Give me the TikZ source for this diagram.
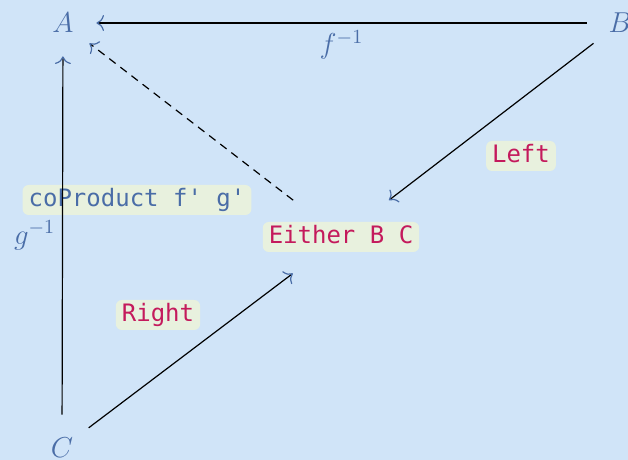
\documentclass[tikz,border=0pt]{standalone}
\usepackage{fontspec}
\newfontfamily\codefont{DejaVu Sans Mono}
\usetikzlibrary{arrows.meta}
\definecolor{bgblue}{RGB}{208,228,248}
\definecolor{objblue}{RGB}{74,109,167}
\definecolor{codebg}{RGB}{232,241,222}
\definecolor{codered}{RGB}{196,26,92}
\begin{document}
\begin{tikzpicture}
        [x=0.5pt, y=-0.5pt,
        obj/.style={circle, minimum size=33pt, inner sep=0pt, text=objblue, font=\Large},
        hub/.style={circle, minimum size=60pt, inner sep=0pt},
        code/.style={fill=codebg, rounded corners=3pt, inner xsep=3pt, inner ysep=1.9pt,
          text height=8.8pt, text depth=2.4pt, text=codered,
          font=\codefont\fontsize{12}{14}\selectfont},
        arr/.style={black, line width=0.6pt, -{To[color=objblue, scale=1.3]}},
        lbl/.style={text=objblue, font=\Large}]

        \fill[bgblue] (0,0) rectangle (628,460);
        \useasboundingbox (0,0) rectangle (628,460);

        \node[obj] (A) at (63,23) {$A$};
        \node[obj] (B) at (620,23) {$B$};
        \node[obj] (C) at (62,448) {$C$};
        \node[hub, label={[code]center:Either B C}] (E) at (341,237) {};

        % labels on the arrows
        \node[code] (left) at (521,156) {Left};
        \node[code] (right) at (158,315) {Right};
        \node[code, text=objblue] (coprod) at (137,200) {coProduct f' g'};

        % arrows
        \draw[arr] (B) -- (A) node[lbl, midway, below] {$f^{-1}$};
        \draw[arr] (C) -- (A) node[lbl, midway, left] {$g^{-1}$};
        \draw[arr, dash pattern=on 4pt off 3pt] (E) -- (A);
        \draw[arr] (B) -- (E);
        \draw[arr] (C) -- (E);

    \end{tikzpicture}
\end{document}
